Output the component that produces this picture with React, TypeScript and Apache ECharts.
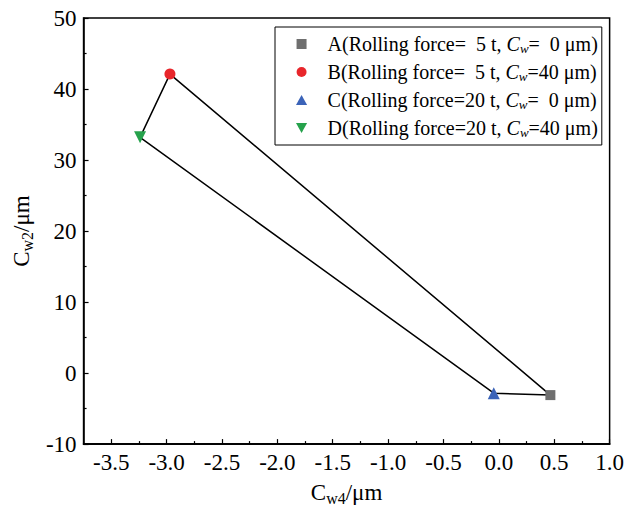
import React, { useEffect, useRef } from "react";
import * as echarts from "echarts";

// Measured crown points (Cw4, Cw2) in μm
const seriesNames = ["A", "B", "C", "D"];
const legendLabels = [
  "A(Rolling force=\u00a0\u00a05 t, {i|C}{sub|w}=\u00a0\u00a00 μm)",
  "B(Rolling force=\u00a0\u00a05 t, {i|C}{sub|w}=40 μm)",
  "C(Rolling force=20 t, {i|C}{sub|w}=\u00a0\u00a00 μm)",
  "D(Rolling force=20 t, {i|C}{sub|w}=40 μm)",
];
const cw4Values = [0.465, -2.97, -0.046, -3.24];
const cw2Values = [-3.1, 42.1, -2.83, 33.2];
// Outline order connecting the four states
const outlineOrder = [0, 1, 3, 2, 0];

const xMajorTicks = [-3.5, -3.0, -2.5, -2.0, -1.5, -1.0, -0.5, 0.0, 0.5, 1.0];
const xMinorTicks = [-3.25, -2.75, -2.25, -1.75, -1.25, -0.75, -0.25, 0.25, 0.75];

const colors = ["#6f6f6f", "#e8262b", "#3b63b8", "#26a24c"];
const symbols = ["rect", "circle", "triangle", "triangle"];
const symbolRotations = [0, 0, 0, 180];
const symbolSizes = [10, 11, 12, 12];
const legendIcons = [
  "path://M0,0H10V10H0Z",
  "path://M5,0A5,5 0 1 1 5,10A5,5 0 1 1 5,0Z",
  "path://M5,0L10,9L0,9Z",
  "path://M0,0L10,0L5,9Z",
];

const FONT = "Liberation Serif";

export default function App() {
  const ref = useRef<HTMLDivElement>(null);

  useEffect(() => {
    document.body.style.margin = "0";
    if (!ref.current) return;
    const chart = echarts.init(ref.current, undefined, { renderer: "svg" });

    const subRich = {
      sub: { fontSize: 16, fontFamily: FONT, color: "#000", verticalAlign: "bottom", lineHeight: 16 },
    };

    const scatterSeries = seriesNames.map((name, i) => ({
      name,
      type: "scatter",
      data: [[cw4Values[i], cw2Values[i]]],
      symbol: symbols[i],
      symbolRotate: symbolRotations[i],
      symbolSize: symbolSizes[i],
      itemStyle: { color: colors[i], opacity: 1 },
      z: 3,
    }));

    const option = {
      animation: false,
      textStyle: { fontFamily: FONT },
      grid: {
        left: 80,
        right: 17,
        top: 18,
        bottom: 66,
        show: true,
        borderColor: "#000",
        borderWidth: 1.5,
        backgroundColor: "transparent",
      },
      legend: {
        orient: "vertical",
        left: 275,
        top: 27,
        data: seriesNames.map((n, i) => ({ name: n, icon: legendIcons[i] })),
        itemWidth: 42,
        itemHeight: 10,
        itemGap: 6,
        symbolKeepAspect: true,
        padding: [6, 4, 6, 21],
        borderColor: "#000",
        borderWidth: 1,
        formatter: (name: string) => legendLabels[seriesNames.indexOf(name)],
        textStyle: {
          fontFamily: FONT,
          fontSize: 20,
          color: "#000",
          lineHeight: 22,
          rich: {
            i: { fontFamily: FONT, fontSize: 20, fontStyle: "italic", color: "#000" },
            sub: {
              fontFamily: FONT,
              fontSize: 13,
              fontStyle: "italic",
              color: "#000",
              verticalAlign: "bottom",
              lineHeight: 13,
            },
          },
        },
      },
      xAxis: [
        {
          type: "value",
          min: -3.75,
          max: 1.0,
          name: "C{sub|w4}/μm",
          nameLocation: "middle",
          nameGap: 34,
          nameTextStyle: { fontFamily: FONT, fontSize: 23, color: "#000", lineHeight: 27, rich: subRich },
          axisLine: { show: true, onZero: false, lineStyle: { color: "#000", width: 1.5 } },
          axisTick: {
            show: true,
            inside: true,
            length: 5,
            lineStyle: { color: "#000", width: 1.2 },
            customValues: xMajorTicks,
          },
          axisLabel: {
            fontFamily: FONT,
            fontSize: 23,
            color: "#000",
            margin: 7,
            customValues: xMajorTicks,
            formatter: (v: number) => v.toFixed(1),
          },
          splitLine: { show: false },
        },
        {
          type: "value",
          min: -3.75,
          max: 1.0,
          position: "bottom",
          axisLine: { show: true, onZero: false, lineStyle: { color: "#000", width: 1.5 } },
          axisTick: {
            show: true,
            inside: true,
            length: 3,
            lineStyle: { color: "#000", width: 1.2 },
            customValues: xMinorTicks,
          },
          axisLabel: { show: false, customValues: xMinorTicks },
          splitLine: { show: false },
        },
      ],
      yAxis: {
        type: "value",
        min: -10,
        max: 50,
        interval: 10,
        name: "C{sub|w2}/μm",
        nameLocation: "middle",
        nameGap: 45,
        nameTextStyle: { fontFamily: FONT, fontSize: 23, color: "#000", lineHeight: 27, rich: subRich },
        axisLine: { show: true, onZero: false, lineStyle: { color: "#000", width: 1.5 } },
        axisTick: { show: true, inside: true, length: 5, lineStyle: { color: "#000", width: 1.2 } },
        minorTick: { show: true, splitNumber: 2, length: 3, lineStyle: { color: "#000", width: 1.2 } },
        axisLabel: { fontFamily: FONT, fontSize: 23, color: "#000", margin: 7 },
        splitLine: { show: false },
        minorSplitLine: { show: false },
      },
      series: [
        {
          name: "outline",
          type: "line",
          data: outlineOrder.map((k) => [cw4Values[k], cw2Values[k]]),
          showSymbol: false,
          symbol: "none",
          lineStyle: { color: "#000", width: 1.5 },
          z: 2,
          silent: true,
        },
        ...scatterSeries,
      ],
    };

    chart.setOption(option as any);
    return () => chart.dispose();
  }, []);

  return <div ref={ref} style={{ width: 627, height: 511 }} />;
}
